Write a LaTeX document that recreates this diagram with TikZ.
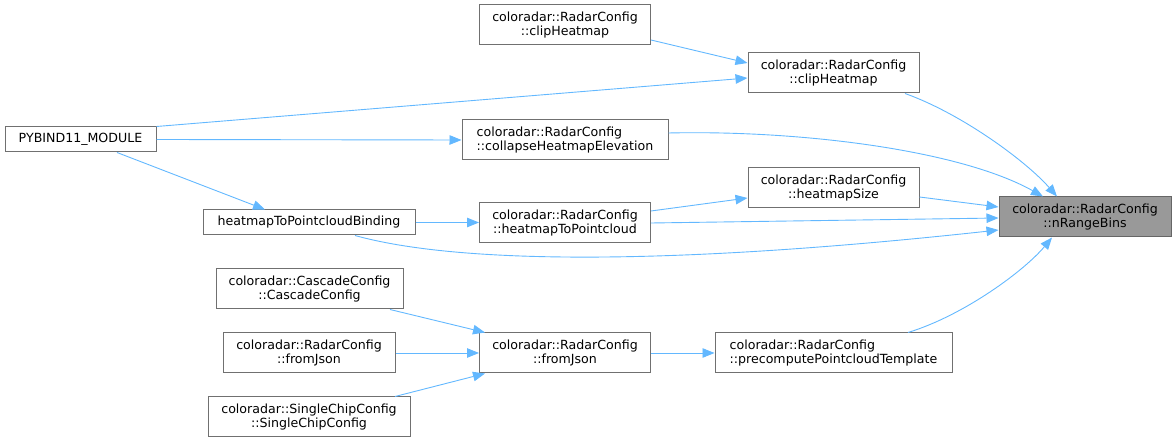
\documentclass[tikz,border=0pt]{standalone}
\usepackage{fontspec}
\setmainfont{DejaVu Sans}
\usetikzlibrary{arrows.meta}
\definecolor{edgeblue}{HTML}{63B8FF}
\definecolor{nodeborder}{HTML}{707070}
\definecolor{selfill}{HTML}{999999}
\definecolor{selborder}{HTML}{666666}
\begin{document}
\begin{tikzpicture}[x=1pt,y=-1pt,
  box/.style={draw=nodeborder,line width=1pt,fill=white,inner sep=0pt,align=center,
    font=\fontsize{12.6}{14.5}\selectfont,minimum height=40pt},
  lbox/.style={box,align=left},
  sbox/.style={box,minimum height=25pt},
  sel/.style={box,fill=selfill,draw=selborder},
  edge/.style={draw=edgeblue,line width=0.9pt,-{Triangle[length=12pt,width=9.5pt]}}]
\useasboundingbox (0,0) rectangle (1176,443);
\node[sbox,minimum width=151pt] (pyb) at (80.5,139.5) {PYBIND11\_MODULE};
\node[box,minimum width=171pt] (a1) at (565,25) {coloradar::RadarConfig\\::clipHeatmap};
\node[box,minimum width=171pt] (a2) at (833.5,73) {coloradar::RadarConfig\\::clipHeatmap};
\node[lbox,minimum width=206pt] (col) at (565,140) {coloradar::RadarConfig\\::collapseHeatmapElevation};
\node[box,minimum width=171pt] (hs) at (833.5,188) {coloradar::RadarConfig\\::heatmapSize};
\node[box,minimum width=171pt] (h2p) at (565,223) {coloradar::RadarConfig\\::heatmapToPointcloud};
\node[sbox,minimum width=212pt] (bind) at (309,222.5) {heatmapToPointcloudBinding};
\node[sel,minimum width=172pt] (nrb) at (1085,217) {coloradar::RadarConfig\\::nRangeBins};
\node[box,minimum width=187pt] (cas) at (309.5,289) {coloradar::CascadeConfig\\::CascadeConfig};
\node[box,minimum width=172pt] (fj1) at (309,353) {coloradar::RadarConfig\\::fromJson};
\node[box,minimum width=202pt] (scc) at (309,417) {coloradar::SingleChipConfig\\::SingleChipConfig};
\node[box,minimum width=171pt] (fj2) at (565,353) {coloradar::RadarConfig\\::fromJson};
\node[lbox,minimum width=237pt] (pre) at (833.5,353) {coloradar::RadarConfig\\::precomputePointcloudTemplate};

\path[edge] (a1.east |- 0,40) -- (a2.west |- 0,63);
\path[edge] (pyb.north east) -- (a2.west |- 0,78);
\path[edge] (pyb.east) -- (col.west);
\path[edge] (pyb.south -| 117,0) -- (bind.north -| 265,0);
\path[edge] (a2.south -| 905,0) .. controls (960,113) and (1025,160) .. (nrb.north -| 1057,0);
\path[edge] (col.east |- 0,133) .. controls (800,130) and (960,150) .. (nrb.north -| 1043,0);
\path[edge] (hs.east |- 0,197) -- (nrb.west |- 0,207);
\path[edge] (h2p.east) -- (nrb.west |- 0,218);
\path[edge] (bind.south -| 355,0) .. controls (450,262) and (650,268) .. (nrb.west |- 0,230);
\path[edge] (bind.east) -- (h2p.west |- 0,222.5);
\path[edge] (h2p.east |- 0,211) -- (hs.west |- 0,198);
\path[edge] (cas.south -| 390,0) -- (fj2.north -| 485,0);
\path[edge] (fj1.east) -- (fj2.west);
\path[edge] (scc.north -| 395,0) -- (fj2.south -| 485,0);
\path[edge] (fj2.east) -- (pre.west);
\path[edge] (pre.north -| 908,0) .. controls (965,315) and (1025,270) .. (nrb.south -| 1052,0);
\end{tikzpicture}
\end{document}
